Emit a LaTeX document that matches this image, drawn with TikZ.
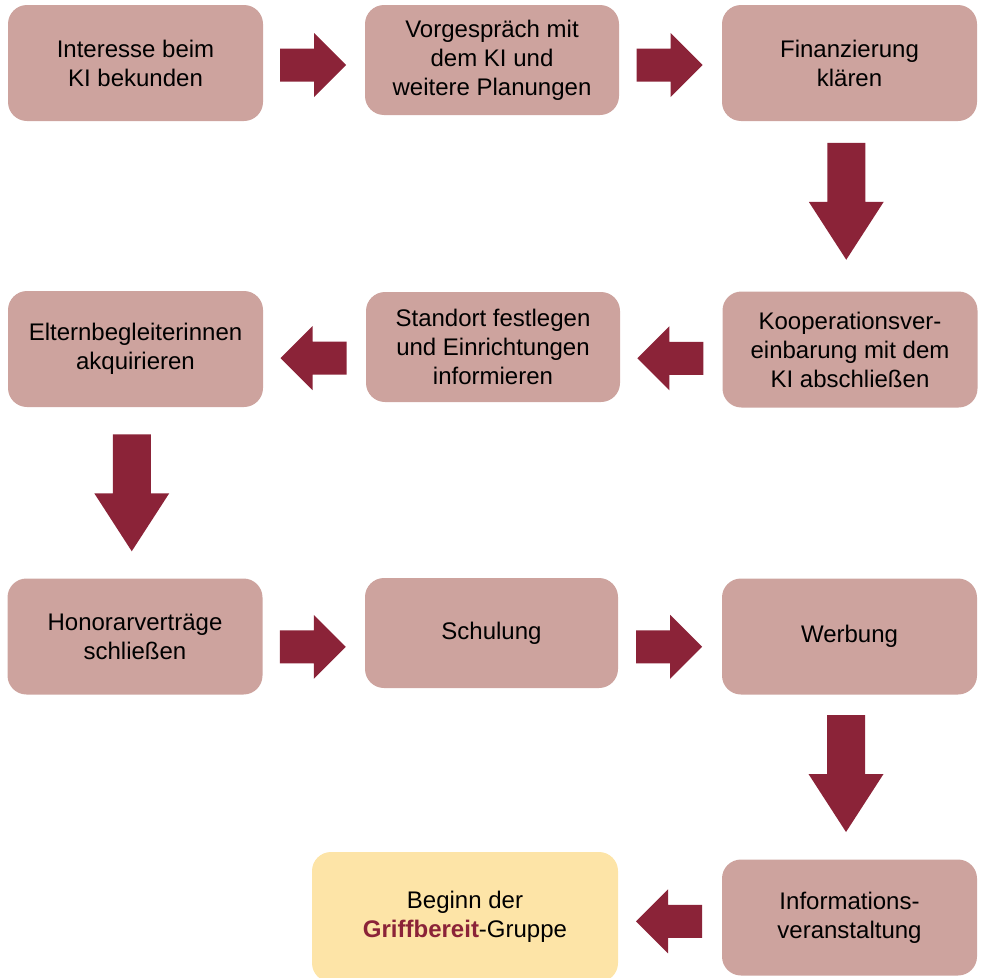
\documentclass[tikz,border=0pt]{standalone}
\usepackage{fontspec}
\setmainfont{Liberation Sans}
\usetikzlibrary{calc}
\definecolor{boxrose}{RGB}{205,163,158}
\definecolor{arrowred}{RGB}{139,35,56}
\definecolor{boxyellow}{RGB}{253,228,167}
\begin{document}
\begin{tikzpicture}[x=1pt, y=-1pt, line join=round,
		font=\fontsize{24}{29}\selectfont,
		stepbox/.style={fill=boxrose, rounded corners=19pt, align=center, inner sep=0pt,
			minimum width=255pt, minimum height=116pt}]
	\useasboundingbox (0,0) rectangle (981,977);
	% first row
	\node[stepbox] (b1) at (135.5,63) {Interesse beim\\KI bekunden};
	\node[stepbox, minimum width=254pt, minimum height=110pt] (b2) at (492,60) {Vorgespräch mit\\dem KI und\\weitere Planungen};
	\node[stepbox] (b3) at (849.5,63) {Finanzierung\\klären};
	% second row
	\node[stepbox] (b4) at (135.5,349) {Elternbegleiterinnen\\akquirieren};
	\node[stepbox, minimum width=254pt, minimum height=110pt] (b5) at (493,347) {Standort festlegen\\und Einrichtungen\\informieren};
	\node[stepbox] (b6) at (850,349.5) {Kooperationsver-\\einbarung mit dem\\KI abschließen};
	% third row
	\node[stepbox] (b7) at (135,636.5) {Honorarverträge\\schließen};
	\node[stepbox, minimum width=253pt, minimum height=110pt] (b8) at (491.5,633) {Schulung};
	\node[stepbox] (b9) at (849.5,636.5) {Werbung};
	% last row
	\node[stepbox, fill=boxyellow, minimum width=306pt, minimum height=130pt] (b10) at (465,917)
		{Beginn der\\\textcolor{arrowred}{\textbf{Griffbereit}}-Gruppe};
	\node[stepbox] (b11) at (849.5,917.5) {Informations-\\veranstaltung};
	% arrows
	\foreach \a/\b/\r/\dy in {b1.east/b2.west/0/3.5, b2.east/b3.west/0/3.5,
		b6.west/b5.east/180/10, b5.west/b4.east/180/10,
		b7.east/b8.west/0/12, b8.east/b9.west/0/12, b11.west/b10.east/180/4}{
		\fill[arrowred, shift={($(\a)!0.5!(\b)$)}, shift={(-1,\dy)}, rotate=\r]
			(-33,-16.5) -- (1,-16.5) -- (1,-32) -- (33,0) -- (1,32) -- (1,16.5) -- (-33,16.5) -- cycle;
	}
	\foreach \a/\b/\dy in {b3.south/b6.north/-5, b4.south/b7.north/0, b9.south/b11.north/-3.5}{
		\fill[arrowred, shift={($(\a)!0.5!(\b)$)}, shift={(-3.5,\dy)}, rotate=-90]
			(-58.5,-19) -- (0.5,-19) -- (0.5,-37.5) -- (58.5,0) -- (0.5,37.5) -- (0.5,19) -- (-58.5,19) -- cycle;
	}
\end{tikzpicture}
\end{document}
